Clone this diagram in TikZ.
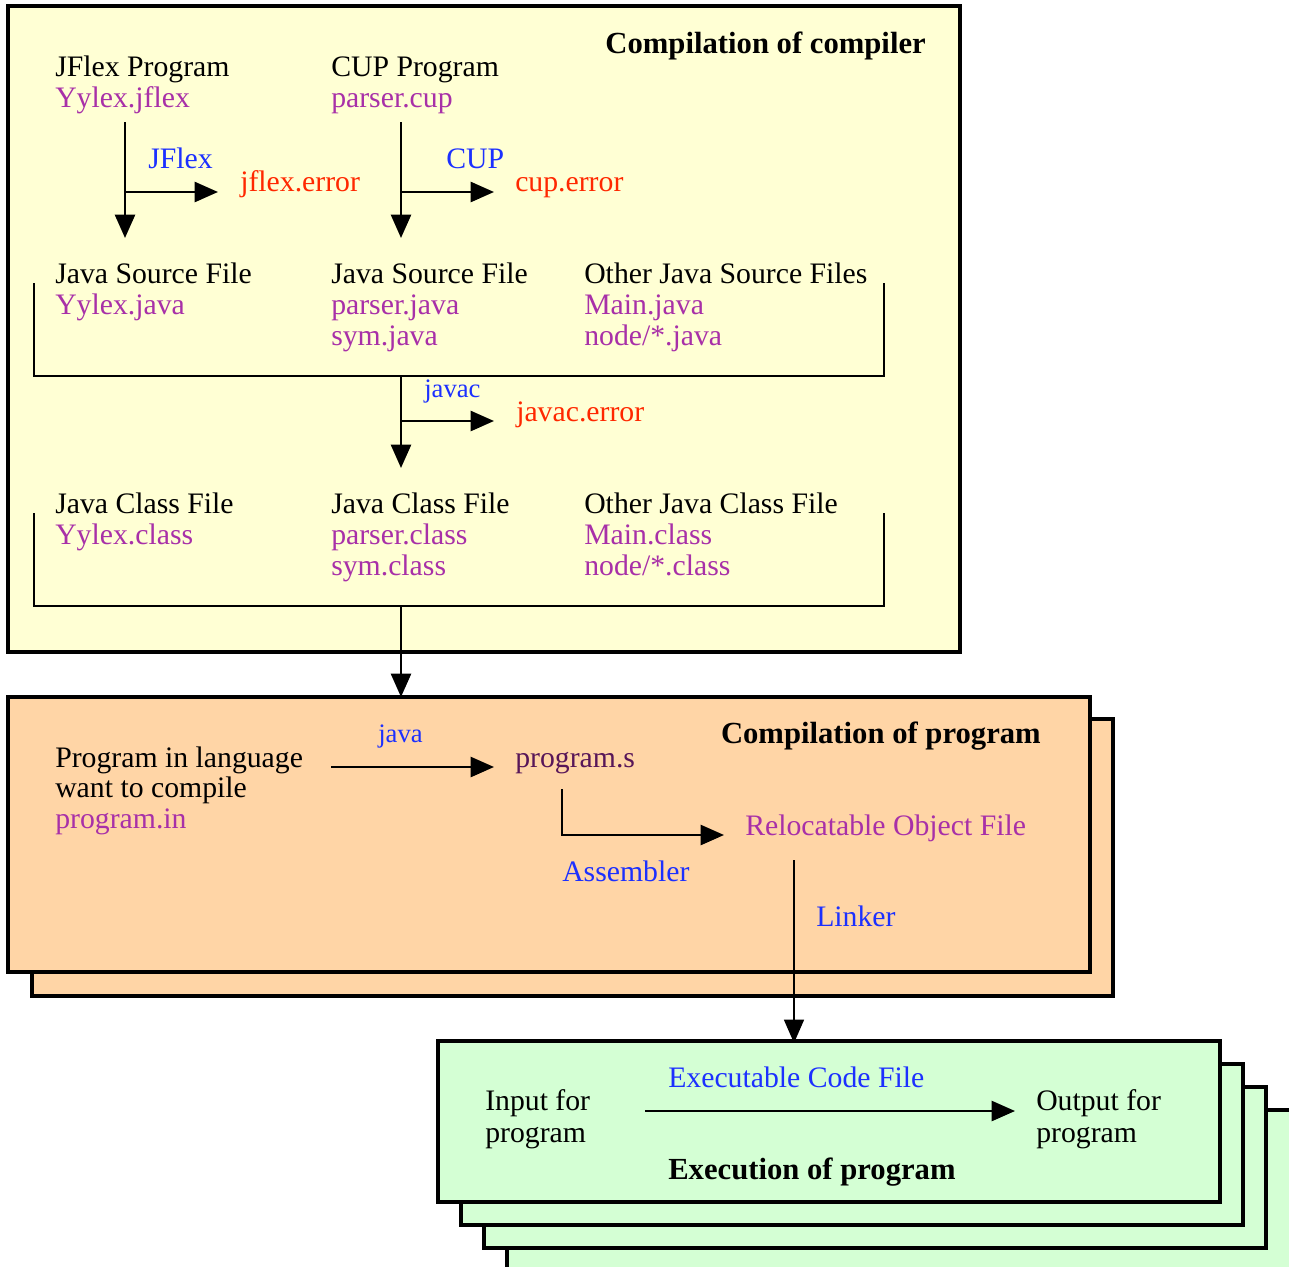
\documentclass[tikz,border=0pt]{standalone}
\usepackage{fontspec}
\setmainfont{Liberation Serif}
\usetikzlibrary{arrows.meta}
\definecolor{ylw}{RGB}{255,255,212}
\definecolor{org}{RGB}{255,213,166}
\definecolor{grn}{RGB}{212,255,212}
\definecolor{blu}{RGB}{28,48,255}
\definecolor{rd}{RGB}{255,40,0}
\definecolor{prp}{RGB}{168,48,168}
\definecolor{dprp}{RGB}{88,22,88}
\tikzset{
  txt/.style={anchor=base west,inner sep=0pt,font=\fontsize{22.3}{24}\selectfont},
  txtr/.style={txt,anchor=base east},
  small/.style={txt,font=\fontsize{20}{22}\selectfont},
  ttl/.style={font=\fontsize{23}{25}\selectfont\bfseries},
  fname/.style={txt,text=prp},
  lbl/.style={txt,text=blu},
  err/.style={txt,text=rd},
  frame/.style={draw=black,line width=3.4pt},
  tip/.style={-{Triangle[length=17.5pt,width=15pt]}},
  arr/.style={line width=1.9pt,tip},
  brk/.style={line width=1.4pt},
}
\begin{document}
\begin{tikzpicture}[x=0.75pt,y=-0.75pt]
\useasboundingbox (0,0) rectangle (1289,1267);
% ---------- yellow box ----------
\draw[frame,fill=ylw] (8,6) rectangle (960,652);
\node[txtr,ttl] (t1) at (926,53) {Compilation of compiler};
\node[txt] (jfp) at (55,76) {JFlex Program};
\node[fname] (jff) at (55,107) {Yylex.jflex};
\node[txt] (cupp) at (331,76) {CUP Program};
\node[fname] (cupf) at (331,107) {parser.cup};
\node[lbl] (jflbl) at (148,168) {JFlex};
\node[err] (jferr) at (240,191) {jflex.error};
\node[lbl] (cuplbl) at (446,168) {CUP};
\node[err] (cuperr) at (515,191) {cup.error};
\node[txt] (s1) at (55,283) {Java Source File};
\node[fname] (s1a) at (55,314) {Yylex.java};
\node[txt] (s2) at (331,283) {Java Source File};
\node[fname] (s2a) at (331,314) {parser.java};
\node[fname] (s2b) at (331,345) {sym.java};
\node[txt] (s3) at (584,283) {Other Java Source Files};
\node[fname] (s3a) at (584,314) {Main.java};
\node[fname] (s3b) at (584,345) {node/*.java};
\node[small,text=blu] (javaclbl) at (424,397) {javac};
\node[err] (javacerr) at (516,421) {javac.error};
\node[txt] (c1) at (55,513) {Java Class File};
\node[fname] (c1a) at (55,544) {Yylex.class};
\node[txt] (c2) at (331,513) {Java Class File};
\node[fname] (c2a) at (331,544) {parser.class};
\node[fname] (c2b) at (331,575) {sym.class};
\node[txt] (c3) at (584,513) {Other Java Class File};
\node[fname] (c3a) at (584,544) {Main.class};
\node[fname] (c3b) at (584,575) {node/*.class};
% coordinates for connectors
\coordinate (jfA) at (125,122);
\coordinate (jfB) at (125,192);
\coordinate (jfC) at (125,238);
\coordinate (jfE) at (218,192);
\coordinate (cuA) at (401,122);
\coordinate (cuB) at (401,192);
\coordinate (cuC) at (401,238);
\coordinate (cuE) at (494,192);
\coordinate (b1l) at (34,283);
\coordinate (b1r) at (884,283);
\coordinate (b1m) at (401,376);
\coordinate (jvB) at (401,421);
\coordinate (jvC) at (401,468);
\coordinate (jvE) at (494,421);
\coordinate (b2l) at (34,513);
\coordinate (b2r) at (884,513);
\coordinate (b2m) at (401,606);
\coordinate (orgTop) at (401,697);
\draw[arr] (jfA) -- (jfC);
\draw[arr] (jfB) -- (jfE);
\draw[arr] (cuA) -- (cuC);
\draw[arr] (cuB) -- (cuE);
\draw[brk] (b1l) |- (b1m) -| (b1r);
\draw[arr] (b1m) -- (jvC);
\draw[arr] (jvB) -- (jvE);
\draw[brk] (b2l) |- (b2m) -| (b2r);
% ---------- orange boxes ----------
\draw[frame,fill=org] (32,719) rectangle (1113,996);
\draw[frame,fill=org] (8,697) rectangle (1090,972);
\draw[arr] (b2m) -- (orgTop);
\node[txtr,ttl] (t2) at (1041,743) {Compilation of program};
\node[txt] (pl1) at (55,767) {Program in language};
\node[txt] (pl2) at (55,797) {want to compile};
\node[fname] (pl3) at (55,828) {program.in};
\node[small,text=blu] (javalbl) at (378,742) {java};
\node[txt,text=dprp] (progs) at (515,767) {program.s};
\node[fname] (reloc) at (745,835) {Relocatable Object File};
\node[lbl] (asm) at (562,881) {Assembler};
\node[lbl] (lnk) at (816,926) {Linker};
\coordinate (jaA) at (331,767);
\coordinate (jaB) at (494,767);
\coordinate (asA) at (562,789);
\coordinate (asB) at (724,835);
\coordinate (lkA) at (794,860);
\coordinate (lkB) at (794,1043);
\draw[arr] (jaA) -- (jaB);
\draw[arr] (asA) |- (asB);
% ---------- green boxes ----------
\draw[frame,fill=grn] (507,1110) rectangle (1312,1294);
\draw[frame,fill=grn] (484,1087) rectangle (1266,1248);
\draw[frame,fill=grn] (461,1064) rectangle (1243,1225);
\draw[frame,fill=grn] (438,1041) rectangle (1220,1202);
\draw[line width=1.1pt,tip] (lkA) -- (lkB);
\node[lbl] (exe) at (668,1087) {Executable Code File};
\node[txt] (in1) at (485,1110) {Input for};
\node[txt] (in2) at (485,1142) {program};
\node[txt] (out1) at (1036,1110) {Output for};
\node[txt] (out2) at (1036,1142) {program};
\node[txt,ttl] (t3) at (668,1179) {Execution of program};
\coordinate (exA) at (645,1111);
\coordinate (exB) at (1015,1111);
\draw[arr] (exA) -- (exB);
\end{tikzpicture}
\end{document}
